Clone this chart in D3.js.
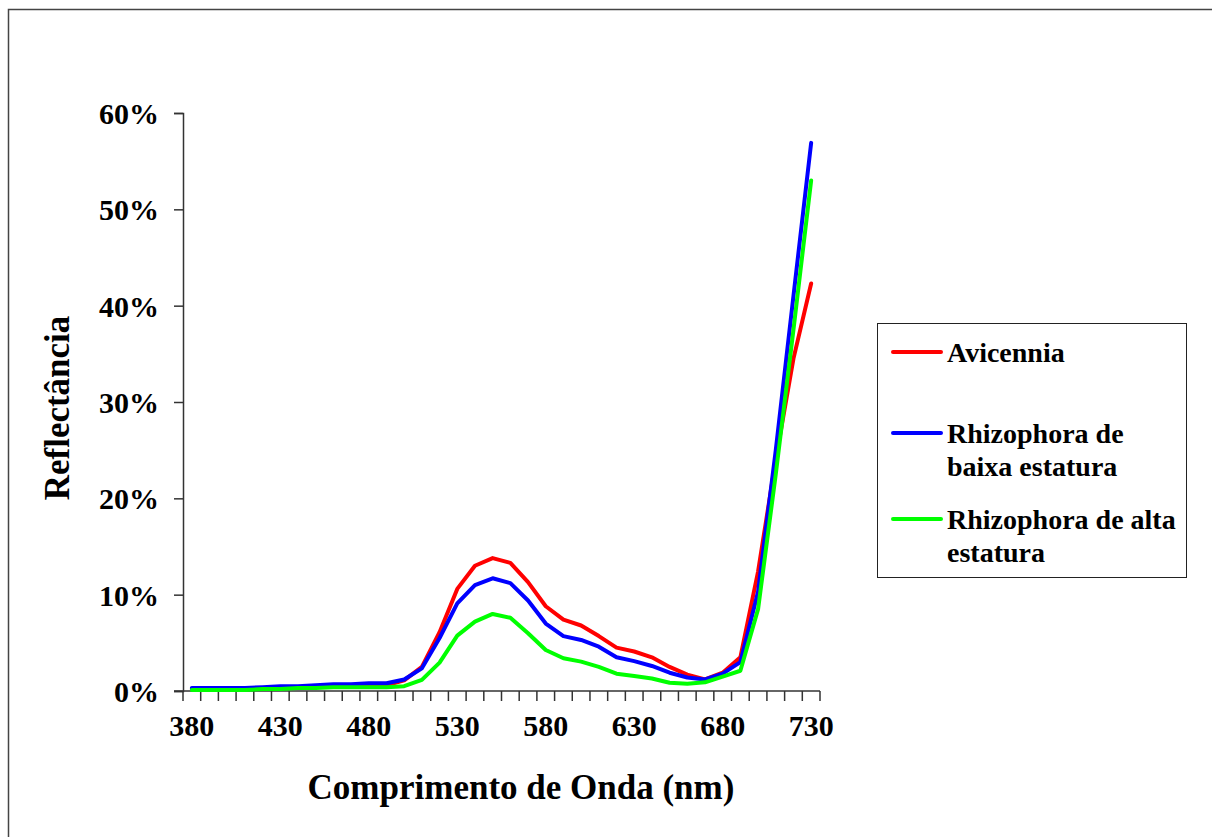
<!DOCTYPE html>
<html>
<head>
<meta charset="utf-8">
<script src="https://cdn.jsdelivr.net/npm/d3@7/dist/d3.min.js"></script>
<style>
  html, body { margin: 0; padding: 0; background: #fff; }
  svg { display: block; }
  text { font-family: "Liberation Serif", "Times New Roman", serif; font-weight: bold; fill: #000; }
</style>
</head>
<body>
<svg id="chart" width="1212" height="837"></svg>
<script>
// Wavelengths (nm), one category per 10 nm
const wavelengths = d3.range(380, 731, 10);

// Reflectance (%) per species
const avicennia = [0.2, 0.2, 0.2, 0.2, 0.3, 0.3, 0.4, 0.5, 0.5, 0.5, 0.6, 0.6,
  1.1, 2.5, 6.1, 10.6, 13.0, 13.8, 13.3, 11.3, 8.8, 7.4, 6.8, 5.7,
  4.5, 4.1, 3.5, 2.5, 1.7, 1.2, 1.9, 3.5, 12.4, 24.0, 34.5, 42.3];
const rhizophoraBaixa = [0.3, 0.3, 0.3, 0.3, 0.4, 0.5, 0.5, 0.6, 0.7, 0.7, 0.8, 0.8,
  1.2, 2.35, 5.5, 9.1, 11.0, 11.7, 11.2, 9.4, 7.0, 5.7, 5.3, 4.6,
  3.5, 3.1, 2.6, 1.9, 1.4, 1.2, 1.8, 3.0, 10.3, 25.0, 41.0, 56.9];
const rhizophoraAlta = [0.1, 0.1, 0.1, 0.1, 0.2, 0.2, 0.3, 0.3, 0.4, 0.4, 0.4, 0.4,
  0.5, 1.15, 2.95, 5.75, 7.2, 8.0, 7.6, 6.0, 4.25, 3.4, 3.05, 2.5,
  1.8, 1.55, 1.3, 0.85, 0.75, 0.9, 1.5, 2.1, 8.5, 22.5, 37.5, 53.0];

const seriesNames = ["Avicennia", "Rhizophora de baixa estatura", "Rhizophora de alta estatura"];
const seriesLegendLines = [["Avicennia"], ["Rhizophora de", "baixa estatura"], ["Rhizophora de alta", "estatura"]];
const seriesColors = ["#ff0000", "#0000ff", "#00ff00"];
const seriesValues = [avicennia, rhizophoraBaixa, rhizophoraAlta];

const xTickLabels = [380, 430, 480, 530, 580, 630, 680, 730];
const yTickValues = [0, 0.1, 0.2, 0.3, 0.4, 0.5, 0.6];

const xAxisTitle = "Comprimento de Onda (nm)";
const yAxisTitle = "Reflectância";

const svg = d3.select("#chart");

// Outer chart frame
svg.append("rect")
  .attr("x", 8.5).attr("y", 9.5)
  .attr("width", 1230).attr("height", 860)
  .attr("fill", "none").attr("stroke", "#444").attr("stroke-width", 1.5);

const plot = { left: 183, right: 820, top: 113, bottom: 691 };

const x = d3.scaleBand().domain(wavelengths).range([plot.left, plot.right]).padding(0);
const y = d3.scaleLinear().domain([0, 0.6]).range([plot.bottom, plot.top]);
const xc = w => x(w) + x.bandwidth() / 2;

const axisColor = "#333";

// Y axis
const yAxis = d3.axisLeft(y).tickValues(yTickValues).tickFormat(d3.format(".0%")).tickSize(9).tickPadding(15);
const gy = svg.append("g").attr("transform", `translate(${plot.left},0)`).call(yAxis);
gy.select(".domain").attr("stroke", axisColor).attr("stroke-width", 1.5);
gy.selectAll(".tick line").attr("stroke", axisColor).attr("stroke-width", 1.5);
gy.selectAll(".tick text").style("font-size", "30px").attr("dy", "0.35em");

// X axis: tick marks at category boundaries, labels at selected categories
const gx = svg.append("g").attr("transform", `translate(0,${plot.bottom})`);
gx.append("line")
  .attr("x1", plot.left - 9).attr("x2", plot.right)
  .attr("y1", 0).attr("y2", 0)
  .attr("stroke", axisColor).attr("stroke-width", 1.5);
const boundaries = wavelengths.map(w => x(w)).concat([x(wavelengths[wavelengths.length - 1]) + x.bandwidth()]);
gx.selectAll("line.tk").data(boundaries).join("line")
  .attr("class", "tk")
  .attr("x1", d => d).attr("x2", d => d)
  .attr("y1", 0).attr("y2", 10)
  .attr("stroke", axisColor).attr("stroke-width", 1.5);
gx.selectAll("text.lbl").data(xTickLabels).join("text")
  .attr("class", "lbl")
  .attr("x", d => xc(d))
  .attr("y", 45)
  .attr("text-anchor", "middle")
  .style("font-size", "30px")
  .text(d => d);

// Axis titles
svg.append("text")
  .attr("x", 521).attr("y", 799)
  .attr("text-anchor", "middle")
  .style("font-size", "35px")
  .text(xAxisTitle);
svg.append("text")
  .attr("transform", "translate(69,408) rotate(-90)")
  .attr("text-anchor", "middle")
  .style("font-size", "35px")
  .text(yAxisTitle);

// Series lines
const line = d3.line()
  .x((d, i) => xc(wavelengths[i]))
  .y(d => y(d / 100));

svg.append("g").selectAll("path").data(seriesValues).join("path")
  .attr("d", d => line(d))
  .attr("fill", "none")
  .attr("stroke", (d, i) => seriesColors[i])
  .attr("stroke-width", 4)
  .attr("stroke-linejoin", "round")
  .attr("stroke-linecap", "round");

// Legend
const legend = svg.append("g");
legend.append("rect")
  .attr("x", 877.5).attr("y", 323.5)
  .attr("width", 309).attr("height", 254)
  .attr("fill", "#fff").attr("stroke", "#222").attr("stroke-width", 1);
const legendRows = [352, 433, 519];
seriesNames.forEach((name, i) => {
  const g = legend.append("g");
  g.append("line")
    .attr("x1", 893).attr("x2", 941)
    .attr("y1", legendRows[i]).attr("y2", legendRows[i])
    .attr("stroke", seriesColors[i]).attr("stroke-width", 4)
    .attr("stroke-linecap", "round");
  g.append("text")
    .attr("x", 947).attr("y", legendRows[i] + 10)
    .style("font-size", "28px")
    .selectAll("tspan").data(seriesLegendLines[i]).join("tspan")
    .attr("x", 947)
    .attr("dy", (d, j) => j === 0 ? 0 : 33)
    .text(d => d);
});
</script>
</body>
</html>
